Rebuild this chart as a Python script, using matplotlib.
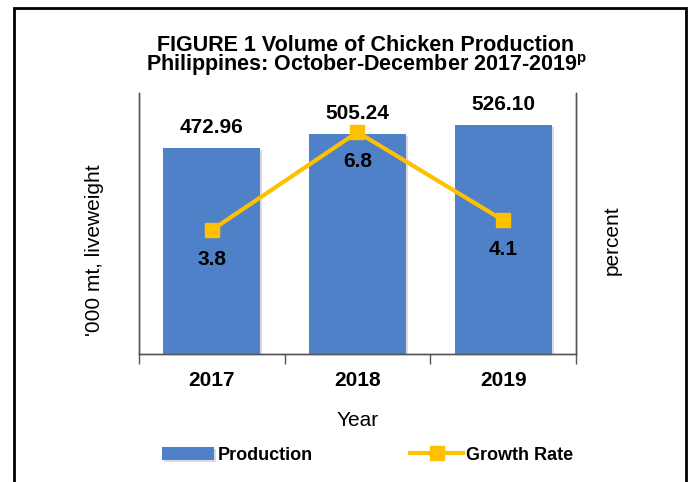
import matplotlib
matplotlib.use("Agg")
import matplotlib.pyplot as plt
import matplotlib.patheffects as pe
from matplotlib.patches import Rectangle

plt.rcParams["font.family"] = ["Liberation Sans", "DejaVu Sans"]
plt.rcParams["mathtext.fontset"] = "custom"
plt.rcParams["mathtext.rm"] = "Liberation Sans"
plt.rcParams["mathtext.bf"] = "Liberation Sans:bold"

years = ["2017", "2018", "2019"]
production = [472.96, 505.24, 526.10]
growth_rate = [3.8, 6.8, 4.1]
prod_labels = ["472.96", "505.24", "526.10"]
growth_labels = ["3.8", "6.8", "4.1"]

BAR_COLOR = "#4F81C8"
LINE_COLOR = "#FFC000"

W, H = 691, 482
fig = plt.figure(figsize=(W / 100, H / 100), dpi=100)
ax = fig.add_axes([139 / W, 1 - 354 / H, (576 - 139) / W, (354 - 93) / H])
ax2 = ax.twinx()

x = list(range(len(years)))
shadow = [pe.SimplePatchShadow(offset=(1.5, -1.5), shadow_rgbFace="#888888", alpha=0.3), pe.Normal()]
bars = ax.bar(x, production, width=0.665, color=BAR_COLOR, zorder=2,
              label="Production", path_effects=shadow)
for xi, v, lab in zip(x, production, prod_labels):
    ax.annotate(lab, (xi, v), xytext=(0, 15), textcoords="offset pixels",
                ha="center", va="baseline", fontsize=15, fontweight="bold")

line, = ax2.plot(x, growth_rate, color=LINE_COLOR, lw=3, marker="s", ms=10,
                 mfc=LINE_COLOR, mec=LINE_COLOR, label="Growth Rate", zorder=3)
for xi, v, lab in zip(x, growth_rate, growth_labels):
    ax2.annotate(lab, (xi, v), xytext=(0, -20), textcoords="offset pixels",
                 ha="center", va="top", fontsize=15, fontweight="bold")

ax.set_xlim(-0.5, 2.5)
ax.set_ylim(0, 600)
ax2.set_ylim(0, 8)
ax.set_yticks([])
ax2.set_yticks([])
ax.set_xticks(x)
ax.set_xticklabels(years, fontsize=15, fontweight="bold")
ax.set_xticks([-0.5, 0.5, 1.5, 2.5], minor=True)
ax.tick_params(axis="x", which="major", length=0, pad=12)
ax.tick_params(axis="x", which="minor", length=7, width=1, color="#555555")

for a in (ax, ax2):
    a.spines["top"].set_visible(False)
    for s in ("left", "right", "bottom"):
        a.spines[s].set_color("#555555")
        a.spines[s].set_linewidth(1)

ax.set_xlabel("Year", fontsize=15, labelpad=15)
fig.text(95 / W, 1 - 250 / H, "'000 mt, liveweight", rotation=90,
         ha="center", va="center", fontsize=15)
fig.text(612 / W, 1 - 240 / H, "percent", rotation=90,
         ha="center", va="center", fontsize=15)

# title as one two-line text; raised "p" marks preliminary data
fig.text(366 / W, 1 - 70.7 / H,
         "FIGURE 1 Volume of Chicken Production\n"
         "Philippines: October-December 2017-2019$^{\\mathbf{p}}$",
         ha="center", va="baseline", multialignment="center",
         fontsize=15.5, fontweight="bold", linespacing=0.8)

fig.legend(handles=[bars, line], loc="center", bbox_to_anchor=(0.532, 1 - 455 / H),
           ncol=2, frameon=False, prop={"size": 13, "weight": "bold"},
           handlelength=2.9, handletextpad=0.2, columnspacing=5.4)

fig.patches.append(Rectangle((14 / W, -0.02), (686 - 14) / W, 1.02 - 8 / H,
                             transform=fig.transFigure, fill=False,
                             edgecolor="black", linewidth=2))

fig.savefig("out.png", dpi=100)
